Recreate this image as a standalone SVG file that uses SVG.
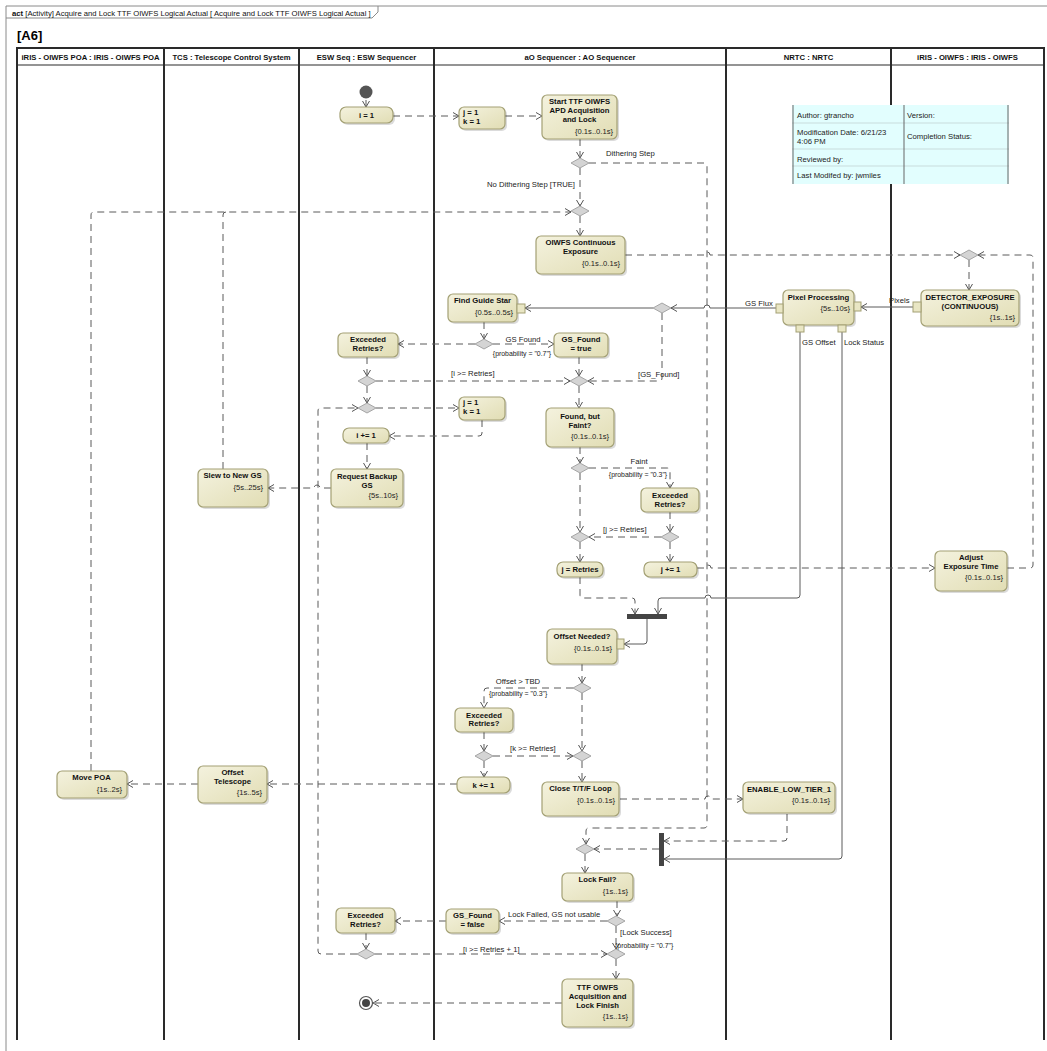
<svg xmlns="http://www.w3.org/2000/svg" xmlns:xlink="http://www.w3.org/1999/xlink" width="1047" height="1051" viewBox="0 0 1047 1051">
<defs>
<linearGradient id="g" x1="0" y1="0" x2="1" y2="1"><stop offset="0" stop-color="#F4F2DE"/><stop offset="1" stop-color="#E1DDB4"/></linearGradient>
<marker id="ar" viewBox="-7 -4 8 8" refX="0" refY="0" markerWidth="8" markerHeight="8" orient="auto" markerUnits="userSpaceOnUse"><path d="M-6,-3.5 L0,0 L-6,3.5" fill="none" stroke="#555" stroke-width="1" stroke-dasharray="none"/></marker>
<path id="dia" d="M-9,0 L0,-5 L9,0 L0,5Z"/>
<style>
.a{fill:url(#g);stroke:#A3A074;stroke-width:1.2}
.sh{fill:#000;opacity:.14}
.pin{fill:#E9E6C4;stroke:#A3A074;stroke-width:1}
.dm{fill:#D4D4D4;stroke:#A5A5A5;stroke-width:1}
.f{fill:none;stroke:#5a5a5a;stroke-width:1;stroke-dasharray:7 5;marker-end:url(#ar)}
.fn{fill:none;stroke:#5a5a5a;stroke-width:1;stroke-dasharray:7 5}
.o{fill:none;stroke:#5a5a5a;stroke-width:1;marker-end:url(#ar)}
.t{font-family:'Liberation Sans',Arial,sans-serif;font-weight:bold;font-size:7.7px;text-anchor:middle;fill:#111}
.tl{font-family:'Liberation Sans',Arial,sans-serif;font-weight:bold;font-size:7.7px;fill:#111}
.d{font-family:'Liberation Sans',Arial,sans-serif;font-size:7.6px;text-anchor:end;fill:#222}
.l{font-family:'Liberation Sans',Arial,sans-serif;font-size:7.7px;fill:#222}
.lc{font-family:'Liberation Sans',Arial,sans-serif;font-size:7.7px;fill:#222;text-anchor:middle}
.p{font-family:'Liberation Sans',Arial,sans-serif;font-size:6.9px;fill:#222}
.pc{font-family:'Liberation Sans',Arial,sans-serif;font-size:6.9px;fill:#222;text-anchor:middle}
.lane{stroke:#2a2a2a;stroke-width:2;fill:none}
.bar{fill:#444}
</style>
</defs>
<rect width="1047" height="1051" fill="#fff"/>
<!-- frame -->
<g id="frame">
<path d="M6,1051 V6 H1047" fill="none" stroke="#8a8a8a" stroke-width="1"/>
<path d="M6,18 H372 L378,12 V6" fill="none" stroke="#8a8a8a" stroke-width="1"/>
<text x="12" y="16" class="l" style="font-size:7.7px;fill:#111"><tspan font-weight="bold">act</tspan> [Activity] Acquire and Lock TTF OIWFS Logical Actual [ Acquire and Lock TTF OIWFS Logical Actual ]</text>
<text x="17" y="40" style="font-family:'Liberation Sans',Arial,sans-serif;font-weight:bold;font-size:13px">[A6]</text>
</g>
<!-- swimlanes -->
<g id="lanes">
<path class="lane" d="M17,1040 V48 H1044 V1040 M164,48 V1040 M299,48 V1040 M434,48 V1040 M726,48 V1040 M891,48 V1040"/>
<path d="M17,65 H1044" stroke="#2a2a2a" stroke-width="1.2"/>
<text class="t" x="90.5" y="59.5">iRIS - OIWFS POA : IRIS - OIWFS POA</text>
<text class="t" x="231.5" y="59.5">TCS : Telescope Control System</text>
<text class="t" x="366.5" y="59.5">ESW Seq : ESW Sequencer</text>
<text class="t" x="580" y="59.5">aO Sequencer : AO Sequencer</text>
<text class="t" x="808.5" y="59.5">NRTC : NRTC</text>
<text class="t" x="967.5" y="59.5">iRIS - OIWFS  : IRIS - OIWFS</text>
</g>
<!-- info table -->
<g id="info">
<rect x="792" y="105" width="217" height="79" fill="#E2FEFE"/>
<path d="M792,123 H1009 M792,149 H1009 M792,166 H1009" stroke="#C8DCDC" stroke-width="1"/>
<path d="M793,105 V184 M904,105 V184 M1008,105 V184" stroke="#666" stroke-width="1"/>
<text class="l" x="797" y="118">Author: gtrancho</text>
<text class="l" x="907" y="118">Version:</text>
<text class="l" x="797" y="135">Modification Date: 6/21/23</text>
<text class="l" x="797" y="144">4:06 PM</text>
<text class="l" x="907" y="139">Completion Status:</text>
<text class="l" x="797" y="162">Reviewed by:</text>
<text class="l" x="797" y="178">Last Modifed by: jwmiles</text>
</g>
<!-- connectors -->
<g id="connectors">
<path class="f" d="M366,100 V107"/>
<path class="f" d="M393,116 H459"/>
<path class="f" d="M505,116 H542"/>
<path class="f" d="M580,139 V158"/>
<path class="f" d="M580,168 V206"/>
<path class="f" d="M589,163 H704 Q707,163 707,166 V825 Q707,828 704,828 H589 Q586,828 586,831 V844"/>
<path class="f" d="M580,216 V236"/>
<path class="f" d="M625,255 H704 A3,3 0 0 1 710,255 H960"/>
<path class="f" d="M1007,568 H1030 Q1033,568 1033,565 V258 Q1033,255 1030,255 H978"/>
<path class="f" d="M969,260 V290"/>
<path class="o" d="M913,307 H861"/>
<path class="o" d="M776,308 H710 A3,3 0 0 0 704,308 H671"/>
<path class="o" d="M653,308 H525"/>
<path class="f" d="M662,313 V378 Q662,381 659,381 H588"/>
<path class="f" d="M484,322 V339"/>
<path class="f" d="M493,344 H554"/>
<path class="f" d="M475,344 H398"/>
<path class="f" d="M367,357 V376"/>
<path class="f" d="M376,381 H570"/>
<path class="f" d="M579,357 V376"/>
<path class="f" d="M367,386 V403"/>
<path class="f" d="M376,408 H459"/>
<path class="f" d="M482,420 V433 Q482,436 479,436 H389"/>
<path class="f" d="M367,443 V469"/>
<path class="f" d="M331,488 H320 A3,3 0 0 0 314,488 H268"/>
<path class="fn" d="M223,469 V215 Q223,212 226,212"/>
<path class="f" d="M91,771 V215 Q91,212 94,212 H571"/>
<path class="f" d="M579,386 V408"/>
<path class="f" d="M580,447 V463"/>
<path class="f" d="M589,468 H667 Q670,468 670,471 V488"/>
<path class="f" d="M580,473 V532"/>
<path class="f" d="M670,512 V532"/>
<path class="f" d="M661,537 H589"/>
<path class="f" d="M580,542 V562"/>
<path class="f" d="M670,542 V562"/>
<path class="f" d="M697,568 H705 A3,3 0 0 1 711,568 H935"/>
<path class="f" d="M580,577 V595 Q580,598 583,598 H632 Q635,598 635,601 V614"/>
<path class="o" d="M800,332 V595 Q800,598 797,598 H711 A3,3 0 0 0 705,598 H661 Q658,598 658,601 V614"/>
<path class="o" d="M647,619 V641 Q647,644 644,644 H624"/>
<path class="f" d="M582,664 V683"/>
<path class="f" d="M573,688 H487 Q484,688 484,691 V708"/>
<path class="f" d="M582,693 V751"/>
<path class="f" d="M484,732 V751"/>
<path class="f" d="M493,756 H573"/>
<path class="f" d="M484,761 V777"/>
<path class="f" d="M457,784 H267"/>
<path class="f" d="M198,784 H127"/>
<path class="f" d="M582,761 V782"/>
<path class="f" d="M620,799 H705 A3,3 0 0 1 711,799 H743"/>
<path class="f" d="M787,814 V838 Q787,841 784,841 H664"/>
<path class="o" d="M842,332 V856 Q842,859 839,859 H664"/>
<path class="f" d="M659,849 H594"/>
<path class="f" d="M585,854 V873"/>
<path class="f" d="M617,901 V916"/>
<path class="f" d="M607,921 H499"/>
<path class="f" d="M446,921 H395"/>
<path class="f" d="M366,933 V949"/>
<path class="f" d="M375,954 H607"/>
<path class="f" d="M357,954 H321 Q318,954 318,951 V411 Q318,408 321,408 H358"/>
<path class="f" d="M616,926 V949"/>
<path class="f" d="M616,959 V979"/>
<path class="f" d="M562,1003 H373"/>
<!-- labels -->
<text class="l" x="606" y="156">Dithering Step</text>
<text class="l" x="575" y="187" text-anchor="end">No Dithering Step [TRUE]</text>
<text class="l" x="745" y="306">GS Flux</text>
<text class="l" x="889" y="303">Pixels</text>
<text class="l" x="802" y="345">GS Offset</text>
<text class="l" x="844" y="345">Lock Status</text>
<text class="lc" x="523" y="342">GS Found</text>
<text class="pc" x="522" y="355.5">{probability = "0.7"}</text>
<text class="l" x="451" y="376">[i &gt;= Retries]</text>
<text class="l" x="638" y="377">[GS_Found]</text>
<text class="lc" x="639" y="464">Faint</text>
<text class="pc" x="638" y="477">{probability = "0.3"}</text>
<text class="l" x="603" y="532">[j &gt;= Retries]</text>
<text class="lc" x="518" y="684">Offset &gt; TBD</text>
<text class="p" x="489" y="696">{probability = "0.3"}</text>
<text class="l" x="510" y="751">[k &gt;= Retries]</text>
<text class="l" x="508" y="917">Lock Failed, GS not usable</text>
<text class="l" x="620" y="935">[Lock Success]</text>
<text class="p" x="615" y="948">{probability = "0.7"}</text>
<text class="l" x="463" y="952">[i &gt;= Retries + 1]</text>
</g>
<!-- nodes -->
<g id="n-init"><circle cx="366" cy="92" r="6.5" fill="#555"/></g>
<g id="n-i1"><rect class="sh" x="342" y="109" width="53" height="16" rx="6"/><rect class="a" x="340" y="107" width="53" height="16" rx="6"/><text class="t" x="366.5" y="118">i = 1</text></g>
<g id="n-jk1"><rect class="sh" x="461" y="109" width="46" height="22" rx="5"/><rect class="a" x="459" y="107" width="46" height="22" rx="5"/><text class="tl" x="463" y="115">j = 1</text><text class="tl" x="463" y="124">k = 1</text></g>
<g id="n-start"><rect class="sh" x="544" y="97" width="75" height="44" rx="5"/><rect class="a" x="542" y="95" width="75" height="44" rx="5"/><text class="t" x="579.5" y="104">Start TTF OIWFS</text><text class="t" x="579.5" y="113">APD Acquisition</text><text class="t" x="579.5" y="122">and Lock</text><text class="d" x="613" y="134">{0.1s..0.1s}</text></g>
<g id="d-dither"><use xlink:href="#dia" class="dm" x="580" y="163"/></g>
<g id="m-2"><use xlink:href="#dia" class="dm" x="580" y="211"/></g>
<g id="n-cont"><rect class="sh" x="538" y="238" width="89" height="38" rx="5"/><rect class="a" x="536" y="236" width="89" height="38" rx="5"/><text class="t" x="580.5" y="245">OIWFS Continuous</text><text class="t" x="580.5" y="254">Exposure</text><text class="d" x="620" y="266">{0.1s..0.1s}</text></g>
<g id="m-3"><use xlink:href="#dia" class="dm" x="969" y="255"/></g>
<g id="n-det"><rect class="sh" x="923" y="292" width="98" height="36" rx="5"/><rect class="a" x="921" y="290" width="98" height="36" rx="5"/><text class="t" x="970" y="300">DETECTOR_EXPOSURE</text><text class="t" x="970" y="309">(CONTINUOUS)</text><text class="d" x="1015" y="320">{1s..1s}</text><rect class="pin" x="913" y="302" width="8" height="10"/></g>
<g id="n-pix"><rect class="sh" x="785" y="292" width="71" height="35" rx="5"/><rect class="a" x="783" y="290" width="71" height="35" rx="5"/><text class="t" x="818.5" y="300">Pixel Processing</text><text class="d" x="850" y="311">{5s..10s}</text><rect class="pin" x="776" y="304" width="7" height="9"/><rect class="pin" x="854" y="302" width="7" height="9"/><rect class="pin" x="796" y="325" width="8" height="7"/><rect class="pin" x="838" y="325" width="8" height="7"/></g>
<g id="d-4"><use xlink:href="#dia" class="dm" x="662" y="308"/></g>
<g id="n-fgs"><rect class="sh" x="450" y="296" width="69" height="28" rx="5"/><rect class="a" x="448" y="294" width="69" height="28" rx="5"/><text class="t" x="482.5" y="303">Find Guide Star</text><text class="d" x="513" y="315">{0.5s..0.5s}</text><rect class="pin" x="517" y="304" width="8" height="9"/></g>
<g id="d-5"><use xlink:href="#dia" class="dm" x="484" y="344"/></g>
<g id="n-gst"><rect class="sh" x="556" y="335" width="54" height="24" rx="5"/><rect class="a" x="554" y="333" width="54" height="24" rx="5"/><text class="t" x="581" y="342">GS_Found</text><text class="t" x="581" y="351">= true</text></g>
<g id="n-ex1"><rect class="sh" x="340" y="335" width="60" height="24" rx="5"/><rect class="a" x="338" y="333" width="60" height="24" rx="5"/><text class="t" x="368" y="342">Exceeded</text><text class="t" x="368" y="351">Retries?</text></g>
<g id="d-6"><use xlink:href="#dia" class="dm" x="367" y="381"/></g>
<g id="m-7"><use xlink:href="#dia" class="dm" x="579" y="381"/></g>
<g id="m-8"><use xlink:href="#dia" class="dm" x="367" y="408"/></g>
<g id="n-jk2"><rect class="sh" x="461" y="399" width="46" height="23" rx="5"/><rect class="a" x="459" y="397" width="46" height="23" rx="5"/><text class="tl" x="463" y="405">j = 1</text><text class="tl" x="463" y="414">k = 1</text></g>
<g id="n-ipp"><rect class="sh" x="345" y="430" width="46" height="15" rx="6"/><rect class="a" x="343" y="428" width="46" height="15" rx="6"/><text class="t" x="366" y="438">i += 1</text></g>
<g id="n-req"><rect class="sh" x="333" y="471" width="72" height="38" rx="5"/><rect class="a" x="331" y="469" width="72" height="38" rx="5"/><text class="t" x="367" y="479">Request Backup</text><text class="t" x="367" y="488">GS</text><text class="d" x="398" y="498">{5s..10s}</text></g>
<g id="n-slew"><rect class="sh" x="200" y="471" width="70" height="38" rx="5"/><rect class="a" x="198" y="469" width="70" height="38" rx="5"/><text class="t" x="232.5" y="478">Slew to New GS</text><text class="d" x="263" y="490">{5s..25s}</text></g>
<g id="n-found"><rect class="sh" x="548" y="410" width="68" height="39" rx="5"/><rect class="a" x="546" y="408" width="68" height="39" rx="5"/><text class="t" x="580" y="419">Found, but</text><text class="t" x="580" y="428">Faint?</text><text class="d" x="609" y="439">{0.1s..0.1s}</text></g>
<g id="d-9"><use xlink:href="#dia" class="dm" x="580" y="468"/></g>
<g id="n-ex2"><rect class="sh" x="643" y="490" width="58" height="24" rx="5"/><rect class="a" x="641" y="488" width="58" height="24" rx="5"/><text class="t" x="670" y="498">Exceeded</text><text class="t" x="670" y="507">Retries?</text></g>
<g id="d-10"><use xlink:href="#dia" class="dm" x="670" y="537"/></g>
<g id="m-11"><use xlink:href="#dia" class="dm" x="580" y="537"/></g>
<g id="n-jr"><rect class="sh" x="559" y="564" width="46" height="15" rx="6"/><rect class="a" x="557" y="562" width="46" height="15" rx="6"/><text class="t" x="580" y="571.5">j = Retries</text></g>
<g id="n-jpp"><rect class="sh" x="646" y="564" width="53" height="15" rx="6"/><rect class="a" x="644" y="562" width="53" height="15" rx="6"/><text class="t" x="670.5" y="571.5">j += 1</text></g>
<g id="n-adj"><rect class="sh" x="937" y="553" width="72" height="40" rx="5"/><rect class="a" x="935" y="551" width="72" height="40" rx="5"/><text class="t" x="971" y="560">Adjust</text><text class="t" x="971" y="569">Exposure Time</text><text class="d" x="1003" y="580">{0.1s..0.1s}</text></g>
<g id="j-1"><rect class="bar" x="627" y="614" width="40" height="5"/></g>
<g id="n-off"><rect class="sh" x="549" y="631" width="70" height="35" rx="5"/><rect class="a" x="547" y="629" width="70" height="35" rx="5"/><text class="t" x="582" y="639">Offset Needed?</text><text class="d" x="612" y="651">{0.1s..0.1s}</text><rect class="pin" x="617" y="639" width="7" height="10"/></g>
<g id="d-12"><use xlink:href="#dia" class="dm" x="582" y="688"/></g>
<g id="n-ex3"><rect class="sh" x="457" y="710" width="58" height="24" rx="5"/><rect class="a" x="455" y="708" width="58" height="24" rx="5"/><text class="t" x="484" y="717.5">Exceeded</text><text class="t" x="484" y="726">Retries?</text></g>
<g id="d-13"><use xlink:href="#dia" class="dm" x="484" y="756"/></g>
<g id="m-14"><use xlink:href="#dia" class="dm" x="582" y="756"/></g>
<g id="n-kpp"><rect class="sh" x="459" y="779" width="53" height="16" rx="6"/><rect class="a" x="457" y="777" width="53" height="16" rx="6"/><text class="t" x="483.5" y="788">k += 1</text></g>
<g id="n-close"><rect class="sh" x="544" y="784" width="77" height="34" rx="5"/><rect class="a" x="542" y="782" width="77" height="34" rx="5"/><text class="t" x="580.5" y="791">Close T/T/F Loop</text><text class="d" x="615" y="803">{0.1s..0.1s}</text></g>
<g id="n-enable"><rect class="sh" x="745" y="784" width="92" height="31" rx="5"/><rect class="a" x="743" y="782" width="92" height="31" rx="5"/><text class="t" x="789" y="792">ENABLE_LOW_TIER_1</text><text class="d" x="830" y="803">{0.1s..0.1s}</text></g>
<g id="n-offt"><rect class="sh" x="200" y="768" width="69" height="37" rx="5"/><rect class="a" x="198" y="766" width="69" height="37" rx="5"/><text class="t" x="232.5" y="775">Offset</text><text class="t" x="232.5" y="784">Telescope</text><text class="d" x="262" y="795">{1s..5s}</text></g>
<g id="n-move"><rect class="sh" x="59" y="773" width="70" height="27" rx="5"/><rect class="a" x="57" y="771" width="70" height="27" rx="5"/><text class="t" x="91.5" y="780">Move POA</text><text class="d" x="122" y="792">{1s..2s}</text></g>
<g id="j-2"><rect class="bar" x="659" y="833" width="5" height="33"/></g>
<g id="m-15"><use xlink:href="#dia" class="dm" x="585" y="849"/></g>
<g id="n-lockfail"><rect class="sh" x="564" y="875" width="71" height="28" rx="5"/><rect class="a" x="562" y="873" width="71" height="28" rx="5"/><text class="t" x="597.5" y="882">Lock Fail?</text><text class="d" x="628" y="894">{1s..1s}</text></g>
<g id="d-16"><use xlink:href="#dia" class="dm" x="616" y="921"/></g>
<g id="n-gsf"><rect class="sh" x="448" y="911" width="53" height="24" rx="5"/><rect class="a" x="446" y="909" width="53" height="24" rx="5"/><text class="t" x="472.5" y="918">GS_Found</text><text class="t" x="472.5" y="927">= false</text></g>
<g id="n-ex4"><rect class="sh" x="338" y="910" width="59" height="25" rx="5"/><rect class="a" x="336" y="908" width="59" height="25" rx="5"/><text class="t" x="365.5" y="918">Exceeded</text><text class="t" x="365.5" y="927">Retries?</text></g>
<g id="d-17"><use xlink:href="#dia" class="dm" x="366" y="954"/></g>
<g id="m-18"><use xlink:href="#dia" class="dm" x="616" y="954"/></g>
<g id="n-ttf"><rect class="sh" x="564" y="981" width="71" height="48" rx="5"/><rect class="a" x="562" y="979" width="71" height="48" rx="5"/><text class="t" x="597.5" y="990">TTF OIWFS</text><text class="t" x="597.5" y="999">Acquisition and</text><text class="t" x="597.5" y="1008">Lock Finish</text><text class="d" x="628" y="1019">{1s..1s}</text></g>
<g id="n-final"><circle cx="366" cy="1003" r="6.5" fill="#fff" stroke="#555" stroke-width="1.2"/><circle cx="366" cy="1003" r="4" fill="#444"/></g>
</svg>
